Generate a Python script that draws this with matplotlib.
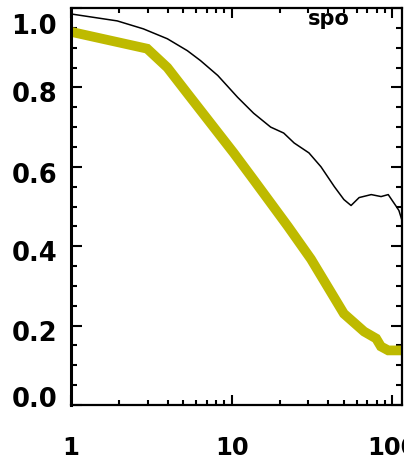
import numpy as np
import matplotlib
matplotlib.use("Agg")
import matplotlib.pyplot as plt
import matplotlib.transforms as mtransforms
from matplotlib.ticker import LogLocator, MultipleLocator, FixedLocator, NullFormatter

# Data
black_x = [1.0, 1.94, 2.82, 3.98, 5.3, 6.4, 8.2, 10.9, 13.7, 17.5, 21.1, 24.5, 30.3, 36.0,
           43.6, 50.0, 55.4, 62.2, 74.0, 85.2, 94.4, 100.0, 106.0, 110.0, 115.0]
black_y = [0.985, 0.9675, 0.9475, 0.9225, 0.8925, 0.8675, 0.83, 0.775, 0.735, 0.70, 0.685,
           0.66, 0.635, 0.60, 0.55, 0.5175, 0.5025, 0.5225, 0.53, 0.525, 0.53, 0.515,
           0.50, 0.49, 0.465]

yellow_x = [1.0, 2.98, 3.98, 5.3, 10.3, 13.7, 22.4, 31.2, 50.0, 66.8, 79.4, 85.0, 94.4, 115.0]
yellow_y = [0.94, 0.8975, 0.85, 0.785, 0.635, 0.5675, 0.45, 0.3675, 0.23, 0.185, 0.1675,
            0.1475, 0.1375, 0.1375]

x_ticks = [1, 10, 100]
x_ticklabels = ["1", "10", "100"]
y_ticks = [0.0, 0.2, 0.4, 0.6, 0.8, 1.0]
y_ticklabels = ["0.0", "0.2", "0.4", "0.6", "0.8", "1.0"]
panel_label = "spo"

W, H = 404, 460
fig = plt.figure(figsize=(W / 100, H / 100), dpi=100)
left, right, bottom, top = 71, 402, 406, 9
ax = fig.add_axes([left / W, (H - bottom) / H, (right - left) / W, (bottom - top) / H])

ax.plot(black_x, black_y, color="black", lw=1.1, clip_on=True)
ax.plot(yellow_x, yellow_y, color="#BEBA00", lw=7.0, solid_joinstyle="miter",
        solid_capstyle="butt", clip_on=True)

ax.set_xscale("log")
ax.set_xlim(1, 115)
ax.set_ylim(0, 1.0)

ax.xaxis.set_major_locator(FixedLocator(x_ticks))
ax.set_xticklabels(x_ticklabels)
ax.xaxis.set_minor_locator(LogLocator(base=10, subs=np.arange(2, 10)))
ax.xaxis.set_minor_formatter(NullFormatter())
ax.yaxis.set_major_locator(FixedLocator(y_ticks))
ax.set_yticklabels(y_ticklabels)
ax.yaxis.set_minor_locator(MultipleLocator(0.05))

for lab in ax.get_yticklabels():
    lab.set_fontfamily("DejaVu Sans")
    lab.set_fontweight("bold")
    lab.set_fontsize(18.5)
for lab in ax.get_xticklabels():
    lab.set_fontfamily("DejaVu Sans")
    lab.set_fontweight("bold")
    lab.set_fontsize(17.5)

ax.tick_params(axis="both", which="both", direction="in", top=True, right=True,
               color="black", width=1.5)
ax.tick_params(axis="x", which="major", length=7, pad=21.3)
ax.tick_params(axis="x", which="minor", length=3.5)
ax.tick_params(axis="y", which="major", length=8, pad=10)
ax.tick_params(axis="y", which="minor", length=4)

# vertical pixel offsets of y tick labels as in the reference (down = positive)
y_label_shift_px = [-9, 4, 4, 5, 4, 15]
for lab, dy in zip(ax.yaxis.get_majorticklabels(), y_label_shift_px):
    off = mtransforms.ScaledTranslation(0, -dy / 100, fig.dpi_scale_trans)
    lab.set_transform(lab.get_transform() + off)

for s in ax.spines.values():
    s.set_linewidth(1.6)
ax.spines["left"].set_linewidth(2.2)

fig.text(329 / W, (H - 25) / H, panel_label, fontsize=15, fontweight="bold",
         family="DejaVu Sans", ha="center", va="baseline")

fig.savefig("out.png", dpi=100)
